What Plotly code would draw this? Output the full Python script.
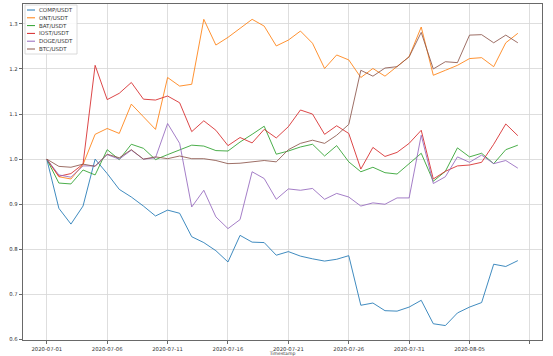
import plotly.graph_objects as go
import pandas as pd

# ---- data ----
dates = pd.date_range("2020-07-01", periods=40, freq="D")
names = ["COMP/USDT", "ONT/USDT", "BAT/USDT", "IOST/USDT", "DOGE/USDT", "BTC/USDT"]
colors = ["#1f77b4", "#ff7f0e", "#2ca02c", "#d62728", "#9467bd", "#8c564b"]

comp = [1.0, 0.891, 0.856, 0.896, 1.0, 0.968, 0.933, 0.916, 0.896, 0.874,
        0.887, 0.880, 0.828, 0.815, 0.797, 0.772, 0.831, 0.816, 0.815, 0.787,
        0.795, 0.785, 0.779, 0.774, 0.778, 0.786, 0.676, 0.681, 0.664, 0.663,
        0.672, 0.687, 0.635, 0.631, 0.659, 0.672, 0.682, 0.767, 0.762, 0.775]
ont = [1.0, 0.961, 0.956, 0.988, 1.055, 1.068, 1.057, 1.122, 1.094, 1.066,
       1.181, 1.162, 1.166, 1.310, 1.253, 1.270, 1.290, 1.310, 1.295, 1.251,
       1.264, 1.284, 1.257, 1.201, 1.231, 1.220, 1.181, 1.201, 1.184, 1.205,
       1.227, 1.293, 1.186, 1.197, 1.208, 1.223, 1.225, 1.205, 1.258, 1.279]
bat = [1.0, 0.947, 0.945, 0.976, 0.965, 1.021, 0.999, 1.033, 1.024, 0.999,
       1.010, 1.020, 1.031, 1.029, 1.019, 1.018, 1.038, 1.055, 1.073, 1.011,
       1.018, 1.027, 1.033, 1.007, 1.030, 0.994, 0.972, 0.982, 0.970, 0.967,
       0.990, 1.013, 0.951, 0.973, 1.025, 1.005, 1.013, 0.990, 1.021, 1.031]
iost = [1.0, 0.962, 0.968, 0.989, 1.208, 1.132, 1.146, 1.170, 1.133, 1.131,
        1.140, 1.125, 1.061, 1.085, 1.064, 1.030, 1.048, 1.036, 1.066, 1.047,
        1.072, 1.109, 1.100, 1.055, 1.074, 1.057, 0.978, 1.026, 1.006, 1.015,
        1.035, 1.064, 0.956, 0.973, 0.985, 0.987, 0.993, 1.033, 1.078, 1.052]
doge = [1.0, 0.965, 0.960, 0.985, 0.985, 1.010, 1.000, 1.020, 1.000, 1.003,
        1.079, 1.035, 0.894, 0.931, 0.872, 0.846, 0.866, 0.972, 0.957, 0.911,
        0.934, 0.931, 0.935, 0.911, 0.924, 0.916, 0.896, 0.903, 0.900, 0.914,
        0.914, 1.053, 0.946, 0.961, 1.005, 0.993, 1.009, 0.990, 0.997, 0.980]
btc = [1.0, 0.984, 0.982, 0.989, 0.984, 1.011, 1.003, 1.021, 1.000, 1.005,
       1.001, 1.007, 1.001, 1.001, 0.997, 0.990, 0.991, 0.994, 0.997, 0.994,
       1.021, 1.035, 1.042, 1.035, 1.053, 1.077, 1.197, 1.184, 1.202, 1.205,
       1.227, 1.281, 1.200, 1.216, 1.214, 1.275, 1.276, 1.258, 1.275, 1.258]

x_tick_vals = ["2020-07-01", "2020-07-06", "2020-07-11", "2020-07-16", "2020-07-21",
               "2020-07-26", "2020-07-31", "2020-08-05", "2020-08-10"]
x_tick_text = ["2020-07-01", "2020-07-06", "2020-07-11", "2020-07-16", "2020-07-21",
               "2020-07-26", "2020-07-31", "2020-08-05", ""]
y_tick_vals = [0.6, 0.7, 0.8, 0.9, 1.0, 1.1, 1.2, 1.3]
y_tick_text = ["0.6", "0.7", "0.8", "0.9", "1.0", "1.1", "1.2", "1.3"]

series = [comp, ont, bat, iost, doge, btc]

FONT = "DejaVu Sans"
W, H = 553, 356
L, R, T, B = 23, 11, 4, 16

fig = go.Figure()
for name, vals, col in zip(names, series, colors):
    fig.add_trace(go.Scatter(x=dates, y=vals, mode="lines", name=name,
                             line=dict(color=col, width=1), opacity=0.85,
                             showlegend=False))


def pxp(xp):
    return (xp - L) / (W - L - R)


def pyp(yp):
    return (H - B - yp) / (H - T - B)


# custom compact legend (matplotlib style)
fig.add_shape(type="rect", xref="paper", yref="paper",
              x0=pxp(25), x1=pxp(77), y0=pyp(54), y1=pyp(5),
              line=dict(color="#d0d0d0", width=0.8),
              fillcolor="rgba(255,255,255,0.85)", layer="above")
for k, (name, col) in enumerate(zip(names, colors)):
    yy = 10 + 7.8 * k
    fig.add_shape(type="line", xref="paper", yref="paper",
                  x0=pxp(27), x1=pxp(35), y0=pyp(yy), y1=pyp(yy),
                  line=dict(color=col, width=1), layer="above")
    fig.add_annotation(xref="paper", yref="paper", x=pxp(37), y=pyp(yy),
                       text=name, showarrow=False, xanchor="left", yanchor="middle",
                       font=dict(family=FONT, size=5.5, color="#333333"))

x0 = pd.Timestamp("2020-07-01")
axis_common = dict(
    showgrid=True, gridcolor="#d6d6d6", gridwidth=0.8,
    ticks="outside", ticklen=3.5, tickwidth=0.8, tickcolor="#444444",
    showline=True, linecolor="#444444", linewidth=0.8, mirror=True,
    zeroline=False, automargin=False,
    tickfont=dict(family=FONT, size=5.3, color="#333333"),
)

fig.update_layout(
    width=W, height=H,
    margin=dict(l=L, r=R, t=T, b=B),
    paper_bgcolor="white", plot_bgcolor="white",
    font=dict(family=FONT, size=5, color="#333333"),
    xaxis=dict(type="date",
               range=[x0 - pd.Timedelta(days=1.97), x0 + pd.Timedelta(days=41.0)],
               tickmode="array", tickvals=x_tick_vals, ticktext=x_tick_text,
               title=dict(text="Timestamp", standoff=1,
                          font=dict(family=FONT, size=4.6, color="#333333")),
               **axis_common),
    yaxis=dict(range=[0.599, 1.344], tickmode="array",
               tickvals=y_tick_vals, ticktext=y_tick_text, **axis_common),
)

fig.write_html("out.html",
               config={"displayModeBar": False, "staticPlot": True},
               post_script="document.body.style.margin='0';document.body.style.padding='0';document.body.style.overflow='hidden';")
